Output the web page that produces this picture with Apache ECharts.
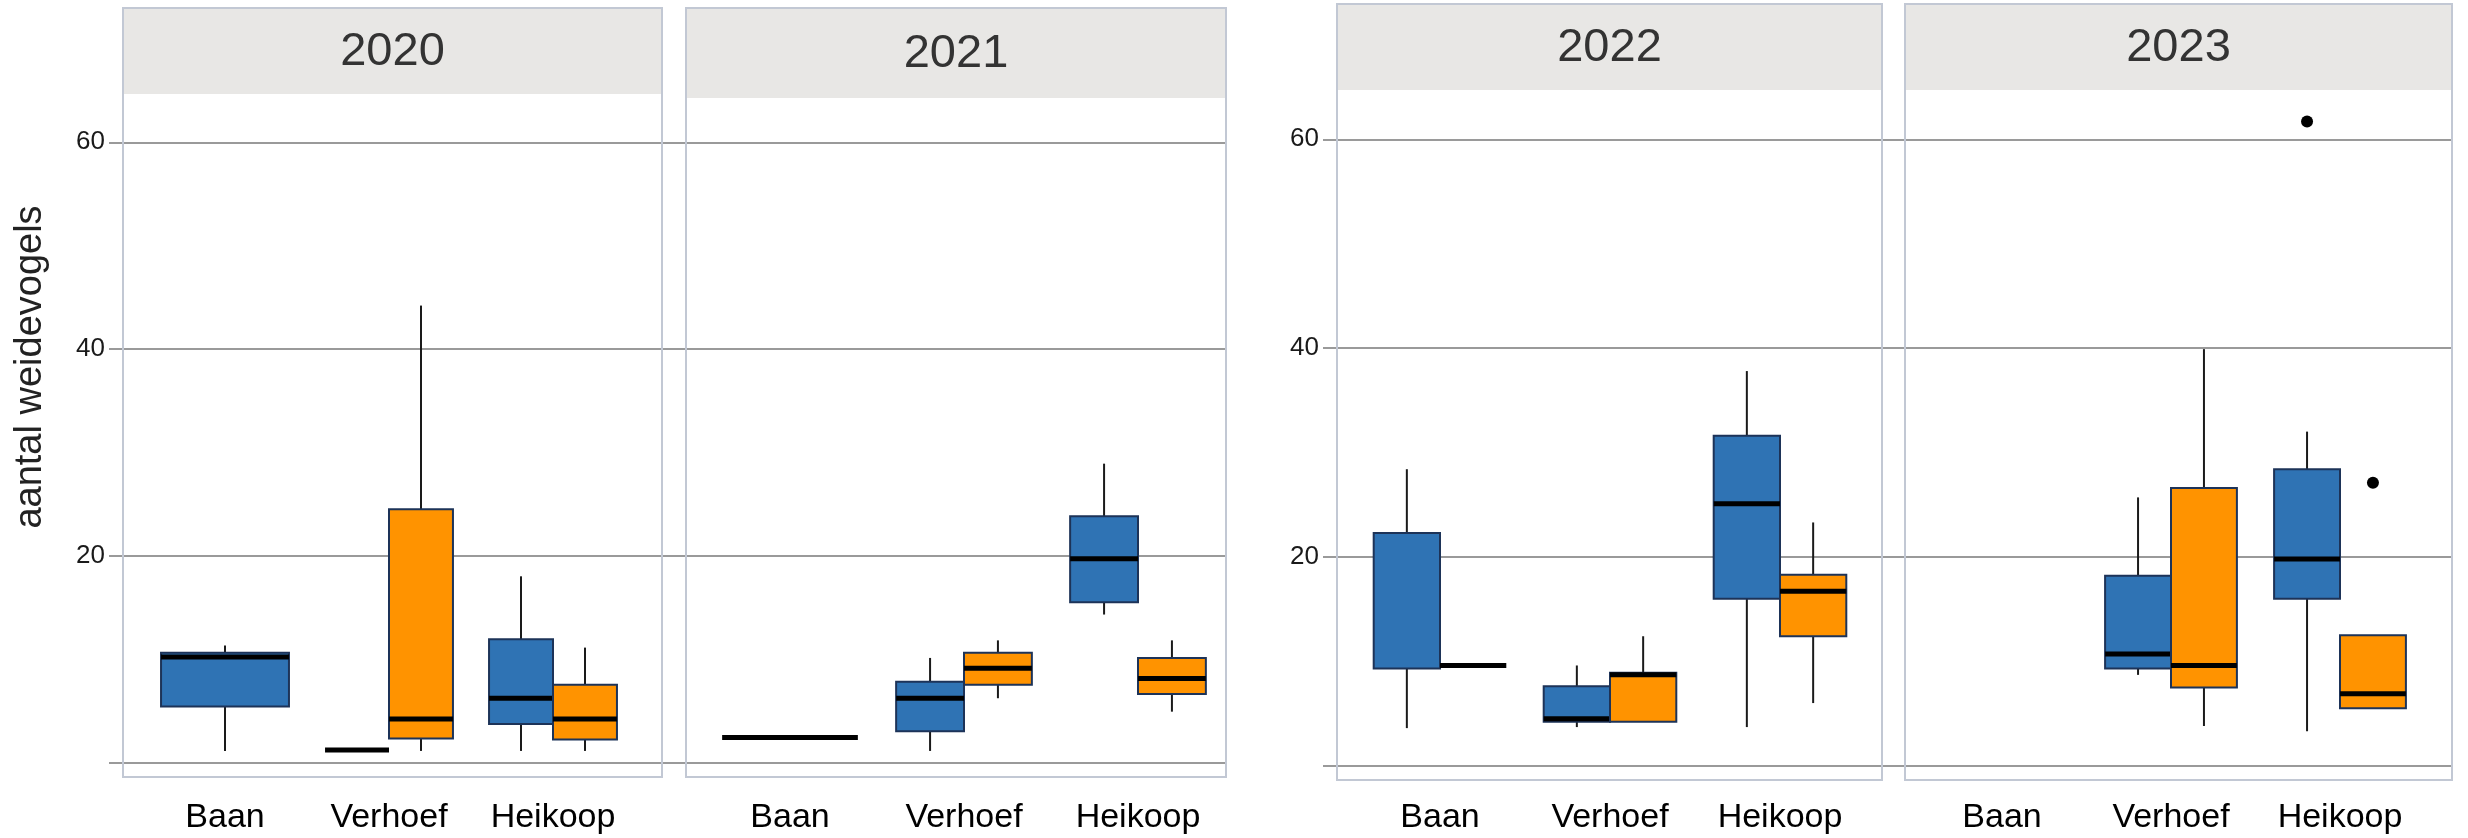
<!DOCTYPE html>
<html>
<head>
<meta charset="utf-8">
<script src="https://cdn.jsdelivr.net/npm/echarts@6/dist/echarts.min.js"></script>
<style>
html,body{margin:0;padding:0;background:#fff;}
#chart{width:2468px;height:838px;}
</style>
</head>
<body>
<div id="chart"></div>
<script>
// ---------------- DATA ----------------
const CATEGORIES = ['Baan', 'Verhoef', 'Heikoop'];
const YEARS = ['2020', '2021', '2022', '2023'];
const Y_TICKS = [0, 20, 40, 60];
const Y_TITLE = 'aantal weidevogels';

// each box: [min, q1, median, q3, max]; null = no box
const blue2020   = [[1.1, 5.4, 10.2, 10.6, 11.3], [1.2, 1.2, 1.2, 1.2, 1.2], [1.1, 3.7, 6.2, 11.9, 18.0]];
const orange2020 = [null, [1.1, 2.3, 4.2, 24.5, 44.2], [1.1, 2.2, 4.2, 7.5, 11.1]];
const blue2021   = [[2.4, 2.4, 2.4, 2.4, 2.4], [1.1, 3.0, 6.2, 7.8, 10.1], [14.3, 15.5, 19.7, 23.8, 28.9]];
const orange2021 = [null, [6.2, 7.5, 9.1, 10.6, 11.8], [4.9, 6.6, 8.1, 10.1, 11.8]];
const blue2022   = [[3.6, 9.3, null, 22.3, 28.4], [3.7, 4.2, 4.5, 7.6, 9.6], [3.7, 16.0, 25.1, 31.6, 37.8]];
const orange2022 = [[9.6, 9.6, 9.6, 9.6, 9.6], [4.2, 4.2, 8.7, 8.9, 12.4], [6.0, 12.4, 16.7, 18.3, 23.3]];
const blue2023   = [null, [8.7, 9.3, 10.7, 18.2, 25.7], [3.3, 16.0, 19.8, 28.4, 32.0]];
const orange2023 = [null, [3.8, 7.5, 9.6, 26.6, 39.9], [5.5, 5.5, 6.9, 12.5, 12.5]];

// outliers per category
const outlierBlue2023   = [[], [], [61.7]];
const outlierOrange2023 = [[], [], [27.1]];

// ---------------- STYLE / LAYOUT ----------------
const GROUP_COLORS = ['#2f73b4', '#ff9300'];
const BOX_BORDER = '#1d3358';
const FRAME = '#c2c8d4';
const STRIP = '#e8e7e5';
const GRIDLINE = '#9a9a9a';
const DODGE = 0.78;
const FONT = '"Liberation Sans", Arial, sans-serif';

const PANELS = [
  { year: '2020', blue: blue2020, orange: orange2020, oBlue: null, oOrange: null,
    grid: { left: 143, width: 492, top: 142.3, height: 620 }, frame: [123, 8, 662, 777], stripBottom: 94, labelMargin: 38 },
  { year: '2021', blue: blue2021, orange: orange2021, oBlue: null, oOrange: null,
    grid: { left: 703, width: 522, top: 142.3, height: 620 }, frame: [686, 8, 1226, 777], stripBottom: 98, labelMargin: 38 },
  { year: '2022', blue: blue2022, orange: orange2022, oBlue: null, oOrange: null,
    grid: { left: 1355, width: 510, top: 139.3, height: 626.4 }, frame: [1337, 4, 1882, 780], stripBottom: 90, labelMargin: 35 },
  { year: '2023', blue: blue2023, orange: orange2023, oBlue: outlierBlue2023, oOrange: outlierOrange2023,
    grid: { left: 1917.5, width: 507, top: 139.3, height: 626.4 }, frame: [1905, 4, 2452, 780], stripBottom: 90, labelMargin: 35 }
];
const BG_GRIDS = [
  { left: 123, width: 1103, top: 142.3, height: 620, axisLine: false },
  { left: 1337, width: 1115, top: 139.3, height: 626.4, axisLine: true }
];

// ---------------- BUILD ----------------
function buildItems(blueArr, orangeArr) {
  const items = [];
  CATEGORIES.forEach((c, ci) => {
    const present = [];
    if (blueArr[ci]) present.push([0, blueArr[ci]]);
    if (orangeArr[ci]) present.push([1, orangeArr[ci]]);
    present.forEach(([gid, s], pos) => {
      items.push([ci, pos, present.length, gid].concat(s.map(v => v == null ? NaN : v)));
    });
  });
  return items;
}
function buildOutliers(blueArr, orangeArr, oBlue, oOrange) {
  const items = [];
  CATEGORIES.forEach((c, ci) => {
    const present = [];
    if (blueArr[ci]) present.push([0, oBlue ? oBlue[ci] : []]);
    if (orangeArr[ci]) present.push([1, oOrange ? oOrange[ci] : []]);
    present.forEach(([gid, arr], pos) => {
      arr.forEach(v => items.push([ci, pos, present.length, v]));
    });
  });
  return items;
}

function renderBox(params, api) {
  const ci = api.value(0), pos = api.value(1), n = api.value(2), gid = api.value(3);
  const lo = api.value(4), q1 = api.value(5), med = api.value(6), q3 = api.value(7), hi = api.value(8);
  const band = api.size([1, 0])[0];
  const total = band * DODGE;
  const w = total / n;
  const c0 = api.coord([ci, 0])[0];
  const cx = c0 - total / 2 + w * (pos + 0.5);
  const y = v => api.coord([ci, v])[1];
  const children = [];
  if (hi > q3) children.push({ type: 'line', shape: { x1: cx, y1: y(q3), x2: cx, y2: y(hi) }, style: { stroke: '#1a1a1a', lineWidth: 2 } });
  if (lo < q1) children.push({ type: 'line', shape: { x1: cx, y1: y(q1), x2: cx, y2: y(lo) }, style: { stroke: '#1a1a1a', lineWidth: 2 } });
  if (q3 > q1) {
    children.push({ type: 'rect', shape: { x: cx - w / 2, y: y(q3), width: w, height: y(q1) - y(q3) },
      style: { fill: GROUP_COLORS[gid], stroke: BOX_BORDER, lineWidth: 2 } });
  }
  if (!isNaN(med)) {
    children.push({ type: 'line', shape: { x1: cx - w / 2, y1: y(med), x2: cx + w / 2, y2: y(med) },
      style: { stroke: '#000', lineWidth: 5 } });
  }
  return { type: 'group', children };
}
function renderOutlier(params, api) {
  const ci = api.value(0), pos = api.value(1), n = api.value(2), v = api.value(3);
  const band = api.size([1, 0])[0];
  const total = band * DODGE;
  const w = total / n;
  const c0 = api.coord([ci, 0])[0];
  const cx = c0 - total / 2 + w * (pos + 0.5);
  return { type: 'circle', shape: { cx: cx, cy: api.coord([ci, v])[1], r: 6 }, style: { fill: '#000' } };
}

const grids = [], xAxes = [], yAxes = [], series = [], graphics = [];
const yMin = Y_TICKS[0], yMax = Y_TICKS[Y_TICKS.length - 1], yInt = Y_TICKS[1] - Y_TICKS[0];

// background grids carrying the y axis + gridlines
BG_GRIDS.forEach((g, i) => {
  grids.push({ left: g.left, top: g.top, width: g.width, height: g.height, show: false });
  xAxes.push({ gridIndex: i, type: 'value', show: false, min: 0, max: 1 });
  yAxes.push({
    gridIndex: i, type: 'value', min: yMin, max: yMax, interval: yInt,
    axisLine: { show: g.axisLine, lineStyle: { color: '#8390a6', width: 2 } },
    axisTick: { show: true, length: 14, lineStyle: { color: GRIDLINE, width: 2 } },
    axisLabel: { margin: 18, fontFamily: FONT, fontSize: 26, color: '#1a1a1a',
      formatter: v => (v === 0 ? '' : String(v)) },
    splitLine: { show: true, lineStyle: { color: GRIDLINE, width: 2 } }
  });
});

PANELS.forEach((p, k) => {
  const gi = BG_GRIDS.length + k;
  grids.push(Object.assign({ show: false }, p.grid));
  xAxes.push({
    gridIndex: gi, type: 'category', data: CATEGORIES, boundaryGap: true,
    axisLine: { show: false }, axisTick: { show: false }, splitLine: { show: false },
    axisLabel: { margin: p.labelMargin, fontFamily: FONT, fontSize: 34, color: '#000', interval: 0 }
  });
  yAxes.push({ gridIndex: gi, type: 'value', min: yMin, max: yMax, show: false, splitLine: { show: false } });
  series.push({
    type: 'custom', xAxisIndex: gi, yAxisIndex: gi, clip: false, z: 3,
    renderItem: renderBox, encode: { x: 0, y: 5 },
    data: buildItems(p.blue, p.orange)
  });
  const outs = buildOutliers(p.blue, p.orange, p.oBlue, p.oOrange);
  if (outs.length) {
    series.push({
      type: 'custom', xAxisIndex: gi, yAxisIndex: gi, clip: false, z: 4,
      renderItem: renderOutlier, encode: { x: 0, y: 3 }, data: outs
    });
  }
  const [x1, y1, x2, y2] = p.frame;
  graphics.push({ type: 'rect', z: 1, shape: { x: x1, y: y1, width: x2 - x1, height: p.stripBottom - y1 },
    style: { fill: STRIP, stroke: null } });
  graphics.push({ type: 'rect', z: 5, shape: { x: x1, y: y1, width: x2 - x1, height: y2 - y1 },
    style: { fill: null, stroke: FRAME, lineWidth: 2 } });
  graphics.push({ type: 'text', z: 6, x: (x1 + x2) / 2, y: (y1 + p.stripBottom) / 2 + 1,
    style: { text: p.year, font: '47px ' + FONT, fill: '#333', align: 'center', verticalAlign: 'middle' } });
});

graphics.push({ type: 'text', z: 6, x: 31, y: 367, rotation: Math.PI / 2,
  style: { text: Y_TITLE, font: '38px ' + FONT, fill: '#222', align: 'center', verticalAlign: 'middle' } });

const chart = echarts.init(document.getElementById('chart'), null, { renderer: 'canvas' });
chart.setOption({
  animation: false,
  backgroundColor: '#fff',
  grid: grids, xAxis: xAxes, yAxis: yAxes, series: series,
  graphic: { elements: graphics }
});
</script>
</body>
</html>
